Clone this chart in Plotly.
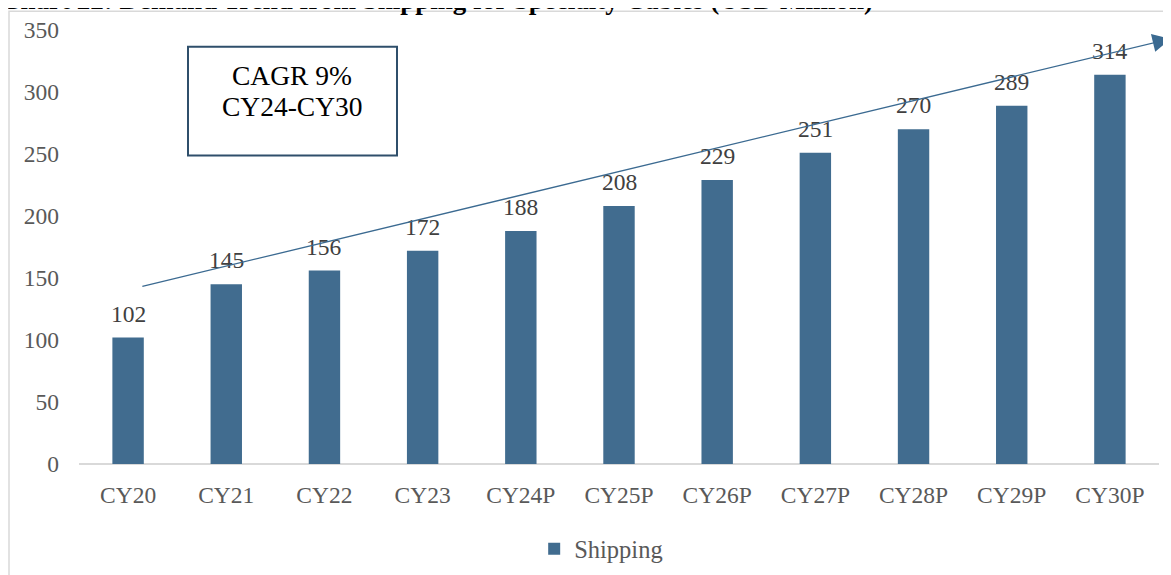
import plotly.graph_objects as go

years = ["CY20", "CY21", "CY22", "CY23", "CY24P", "CY25P", "CY26P", "CY27P", "CY28P", "CY29P", "CY30P"]
shipping = [102, 145, 156, 172, 188, 208, 229, 251, 270, 289, 314]
y_ticks = [0, 50, 100, 150, 200, 250, 300, 350]

BAR_COLOR = "#416c8f"
SERIF = "Liberation Serif, Times New Roman, serif"

# plot area on screen: x 79..1159, y 30..469 (page body adds 8px)
def px_x(p):
    return (p - 79) / 1080

def px_y(p):
    return (469 - p) / 439

fig = go.Figure(go.Bar(
    x=list(range(len(years))), y=shipping, name="Shipping",
    marker=dict(color=BAR_COLOR, line=dict(width=0)),
    width=0.32,
))

# data labels
for i, v in enumerate(shipping):
    fig.add_annotation(x=i, y=v, xref="x", yref="y", text=str(v), showarrow=False,
                       xanchor="center", yanchor="bottom", yshift=9,
                       font=dict(family=SERIF, size=23.5, color="#404040"))

# trend arrow
fig.add_annotation(
    x=10.62, y=343, ax=0.13, ay=143, xref="x", yref="y", axref="x", ayref="y",
    text="", showarrow=True, arrowhead=2, arrowsize=2.8, arrowwidth=1.3,
    arrowcolor="#3b6a91",
)

# CAGR box
fig.add_shape(type="rect", xref="paper", yref="paper",
              x0=px_x(188), x1=px_x(397), y0=px_y(157), y1=px_y(47),
              line=dict(color="#2f4f6b", width=2), fillcolor="white", layer="above")
for txt, yy in [("CAGR 9%", 76), ("CY24-CY30", 107)]:
    fig.add_annotation(xref="paper", yref="paper", x=px_x(292), y=px_y(yy),
                       xanchor="center", yanchor="middle", text=txt, showarrow=False,
                       font=dict(family=SERIF, size=27.5, color="black"))

# outer frame
fig.add_shape(type="rect", xref="paper", yref="paper",
              x0=px_x(9), x1=1.2, y0=-0.5, y1=px_y(11),
              line=dict(color="#d9d9d9", width=1.5), layer="below")

# chart title, cut off by the top edge
fig.add_annotation(xref="paper", yref="paper", x=px_x(-1), y=px_y(17),
                   xanchor="left", yanchor="bottom", showarrow=False,
                   text="<b>Chart 22: Demand Trend from Shipping for Specialty Cables (USD Million)</b>",
                   font=dict(family=SERIF, size=27, color="black"))

fig.update_layout(
    width=1171, height=575,
    margin=dict(l=71, r=20, t=22, b=114),
    paper_bgcolor="white", plot_bgcolor="white",
    font=dict(family=SERIF, color="#595959"),
    showlegend=True,
    legend=dict(orientation="h", x=0.4835, xanchor="center", y=px_y(532), yanchor="top",
                font=dict(family=SERIF, size=24.5, color="#595959"),
                itemwidth=30),
    xaxis=dict(tickmode="array", tickvals=list(range(len(years))), ticktext=years,
               range=[-0.5, len(years) - 0.5], showgrid=False, zeroline=False,
               showline=False, tickfont=dict(family=SERIF, size=23.5, color="#595959"),
               ticks="", ticklabelstandoff=14, automargin=False),
    yaxis=dict(range=[0, 350], tickvals=y_ticks, showgrid=False, zeroline=True,
               zerolinecolor="#d9d9d9", zerolinewidth=2, showline=False,
               tickfont=dict(family=SERIF, size=23.5, color="#595959"),
               ticks="", ticklabelstandoff=19, automargin=False),
)

fig.write_html("out.html")
